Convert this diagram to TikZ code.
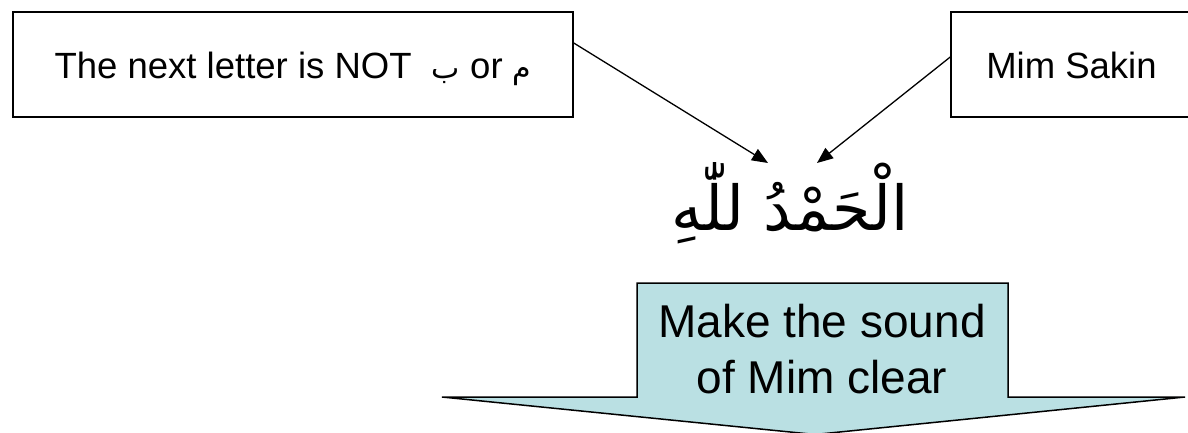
\documentclass[tikz,border=0pt]{standalone}
\usepackage{xcolor}
\usepackage{fontspec}
\setmainfont{Liberation Sans}
\newfontfamily\arabicfont[Script=Arabic]{DejaVu Sans}
\TeXXeTstate=1
\usetikzlibrary{arrows.meta}

\definecolor{arrowfill}{RGB}{186,224,227}

\tikzset{
	notebox/.style={draw,line width=1.5pt,inner sep=0pt,minimum height=105pt,
		text height=29pt,text depth=0pt,font=\fontsize{36.5}{40}\selectfont},
	pointer/.style={->,>={Triangle[length=16pt,width=13pt]},line width=1.3pt}
}

\begin{document}
\begin{tikzpicture}[x=1pt,y=-1pt]
	\useasboundingbox (0,0) rectangle (1188,433);
	
	% Caixas
	\node[notebox,minimum width=560pt] (nextbox) at (293,64.5)
		{The next letter is NOT\ \ {\arabicfont\fontsize{30}{30}\selectfont\beginR ب\endR} or {\arabicfont\fontsize{30}{30}\selectfont\beginR م\endR}};
	\node[notebox,minimum width=241pt] (mimbox) at (1071.5,64.5) {Mim Sakin};
	
	% Texto
	\node[inner sep=0pt] (hamd) at (790,203)
		{\arabicfont\fontsize{62}{62}\selectfont\beginR الْحَمْدُ للّٰهِ\endR};
	
	% Setas
	\coordinate (tipL) at (768,163);
	\coordinate (tipR) at (817,163);
	\draw[pointer] ([yshift=21.5pt]nextbox.east) -- (tipL);
	\draw[pointer] ([yshift=7.5pt]mimbox.west) -- (tipR);
	
	% Seta para baixo
	\filldraw[fill=arrowfill,line width=1.5pt,line join=miter]
		(637,283) -- (1008,283) -- (1008,397) -- (1185,397) -- (815,434.5)
		-- (442,397) -- (637,397) -- cycle;
	\node[inner sep=0pt,align=center,font=\fontsize{46}{56}\selectfont] (rule) at (822,349)
		{Make the sound\\of Mim clear};
\end{tikzpicture}
\end{document}
